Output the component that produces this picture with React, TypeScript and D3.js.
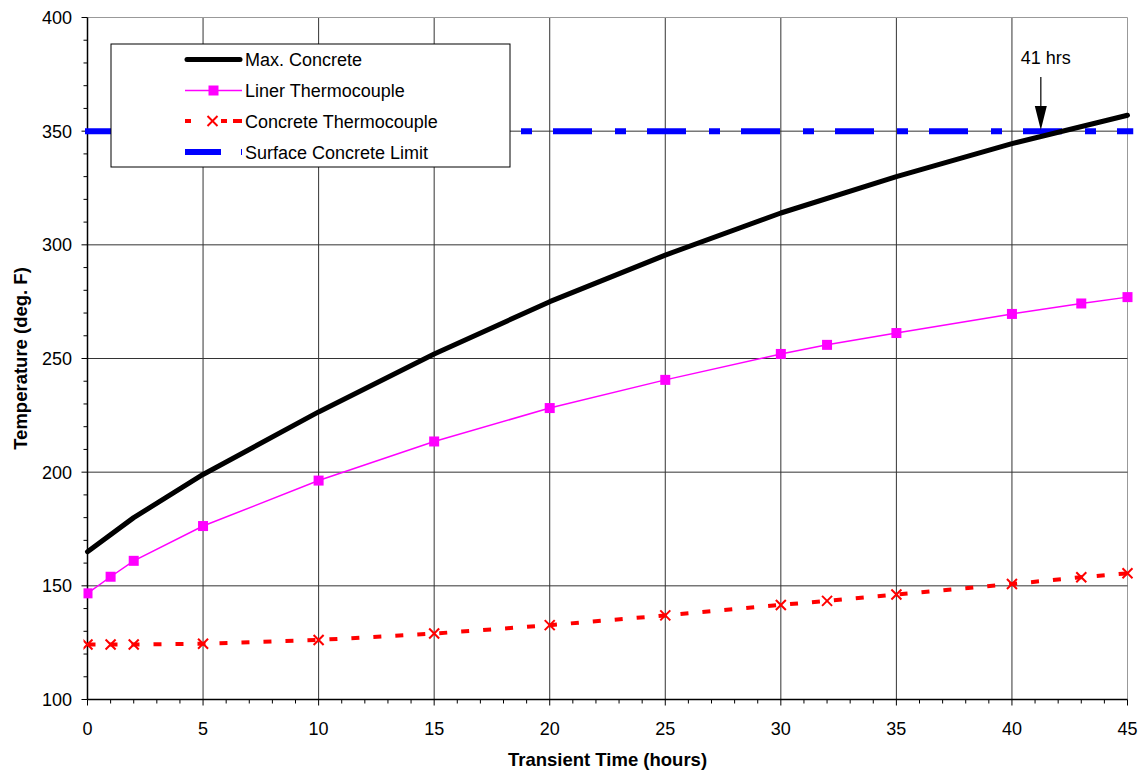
import React from "react";
import * as d3 from "d3";

const hoursMax = [0, 2, 5, 10, 15, 20, 25, 30, 35, 40, 45];
const maxConcrete = [165, 180, 199, 226.5, 252, 275, 295.5, 314, 330, 344.5, 357];

const hoursTC = [0, 1, 2, 5, 10, 15, 20, 25, 30, 32, 35, 40, 43, 45];
const linerTC = [146.7, 154, 161, 176.3, 196.3, 213.5, 228.2, 240.6, 252, 256, 261.2, 269.6, 274.2, 277];
const concreteTC = [124.2, 124.2, 124.2, 124.5, 126.2, 129, 132.7, 137, 141.6, 143.4, 146.2, 150.8, 153.8, 155.5];

const limitValue = 350;
const limitHours = [0, 45];
const annotationHour = 41.25;
const annotationText = "41 hrs";

const xTicks = [0, 5, 10, 15, 20, 25, 30, 35, 40, 45];
const yTicks = [100, 150, 200, 250, 300, 350, 400];

const legendLabels = ["Max. Concrete", "Liner Thermocouple", "Concrete Thermocouple", "Surface Concrete Limit"];

export default function App() {
  const W = 1143, H = 775;
  const x = d3.scaleLinear().domain([0, 45]).range([87.5, 1127.5]);
  const y = d3.scaleLinear().domain([100, 400]).range([699.5, 17.5]);
  const font = "Liberation Sans, Arial, sans-serif";

  const lineMax = d3.line<number>().x((d, i) => x(hoursMax[i])).y((d) => y(d));
  const lineTC = d3.line<number>().x((d, i) => x(hoursTC[i])).y((d) => y(d));

  const xMinor = d3.range(0, 46, 1);
  const yMinor = d3.range(100, 401, 10);

  const lx = 111, ly = 44, lw = 399, lh = 123;
  const rowY = [59.5, 90.5, 121, 152];
  const s0 = 185, s1 = 242, tx = 245;

  const ax = x(annotationHour);

  return (
    <div style={{ position: "fixed", left: 0, top: 0, width: W, height: H, overflow: "hidden" }}>
      <svg width={W} height={H} style={{ display: "block", background: "#fff" }} fontFamily={font}>
        <defs>
          <clipPath id="plotclip">
            <rect x={x(0) - 4} y={y(400) - 4} width={x(45) - x(0) + 10} height={y(100) - y(400) + 8} />
          </clipPath>
        </defs>
        {/* grid */}
        {xTicks.slice(1).map((t) => (
          <line key={"gx" + t} x1={x(t)} x2={x(t)} y1={y(400)} y2={y(100)} stroke={t === 45 ? "#999" : "#333"} strokeWidth={1} />
        ))}
        {yTicks.slice(1).map((t) => (
          <line key={"gy" + t} x1={x(0)} x2={x(45)} y1={y(t)} y2={y(t)} stroke={t === 400 ? "#999" : "#333"} strokeWidth={1} />
        ))}
        {/* axes */}
        <line x1={x(0)} x2={x(0)} y1={y(400)} y2={y(100)} stroke="#000" strokeWidth={1.5} />
        <line x1={x(0)} x2={x(45)} y1={y(100)} y2={y(100)} stroke="#000" strokeWidth={1.5} />
        {xMinor.map((t) => (
          <line key={"xm" + t} x1={x(t)} x2={x(t)} y1={y(100)} y2={y(100) + (t % 5 === 0 ? 6 : 4)} stroke="#000" strokeWidth={1} />
        ))}
        {yMinor.map((t) => (
          <line key={"ym" + t} x1={x(0) - (t % 50 === 0 ? 6 : 4)} x2={x(0)} y1={y(t)} y2={y(t)} stroke="#000" strokeWidth={1} />
        ))}
        {xTicks.map((t) => (
          <text key={"xl" + t} x={x(t)} y={735} textAnchor="middle" fontSize={18} fill="#000">{t}</text>
        ))}
        {yTicks.map((t) => (
          <text key={"yl" + t} x={72} y={y(t) + 6.5} textAnchor="end" fontSize={18} fill="#000">{t}</text>
        ))}
        <text x={(x(0) + x(45)) / 2} y={766} textAnchor="middle" fontSize={18.5} fontWeight="bold">Transient Time (hours)</text>
        <text transform={`translate(27,${(y(100) + y(400)) / 2}) rotate(-90)`} textAnchor="middle" fontSize={18.5} fontWeight="bold">Temperature (deg. F)</text>

        <g clipPath="url(#plotclip)">
          {/* limit line */}
          <line x1={85} x2={x(limitHours[1]) + 6} y1={y(limitValue)} y2={y(limitValue)} stroke="#0000ff" strokeWidth={6} strokeDasharray="11 21 39 23" strokeDashoffset={34} />
          {/* concrete thermocouple */}
          <path d={lineTC(concreteTC) || ""} fill="none" stroke="#ff0000" strokeWidth={4} strokeDasharray="8 14" />
          {concreteTC.map((v, i) => (
            <g key={"ct" + i} transform={`translate(${x(hoursTC[i])},${y(v)})`} stroke="#ff0000" strokeWidth={2}>
              <line x1={-5} y1={-5} x2={5} y2={5} />
              <line x1={-5} y1={5} x2={5} y2={-5} />
            </g>
          ))}
          {/* liner thermocouple */}
          <path d={lineTC(linerTC) || ""} fill="none" stroke="#ff00ff" strokeWidth={1.5} />
          {linerTC.map((v, i) => (
            <rect key={"lt" + i} x={x(hoursTC[i]) - 5} y={y(v) - 5} width={10} height={10} fill="#ff00ff" />
          ))}
          {/* max concrete */}
          <path d={lineMax(maxConcrete) || ""} fill="none" stroke="#000" strokeWidth={5} strokeLinecap="round" strokeLinejoin="round" />
        </g>

        {/* annotation */}
        <text x={ax + 5} y={64} textAnchor="middle" fontSize={18}>{annotationText}</text>
        <line x1={ax} x2={ax} y1={77} y2={108} stroke="#000" strokeWidth={1.2} />
        <path d={`M${ax - 6},106 L${ax + 6},106 L${ax},130 Z`} fill="#000" />

        {/* legend */}
        <rect x={lx} y={ly} width={lw} height={lh} fill="#fff" stroke="#000" strokeWidth={1} />
        <line x1={s0 + 2} x2={s1 - 2} y1={rowY[0]} y2={rowY[0]} stroke="#000" strokeWidth={5} strokeLinecap="round" />
        <line x1={s0} x2={s1} y1={rowY[1]} y2={rowY[1]} stroke="#ff00ff" strokeWidth={1.5} />
        <rect x={(s0 + s1) / 2 - 5} y={rowY[1] - 5} width={10} height={10} fill="#ff00ff" />
        <line x1={s0} x2={s1} y1={rowY[2]} y2={rowY[2]} stroke="#ff0000" strokeWidth={4} strokeDasharray="6 16 0 14 6" />
        <g transform={`translate(${(s0 + s1) / 2 - 1},${rowY[2]})`} stroke="#ff0000" strokeWidth={2}>
          <line x1={-5} y1={-5} x2={5} y2={5} />
          <line x1={-5} y1={5} x2={5} y2={-5} />
        </g>
        <line x1={s0} x2={s1} y1={rowY[3]} y2={rowY[3]} stroke="#0000ff" strokeWidth={6} strokeDasharray="36 20 2 10" />
        {legendLabels.map((l, i) => (
          <text key={l} x={tx} y={rowY[i] + 6.5} fontSize={18} fill="#000">{l}</text>
        ))}
      </svg>
    </div>
  );
}
